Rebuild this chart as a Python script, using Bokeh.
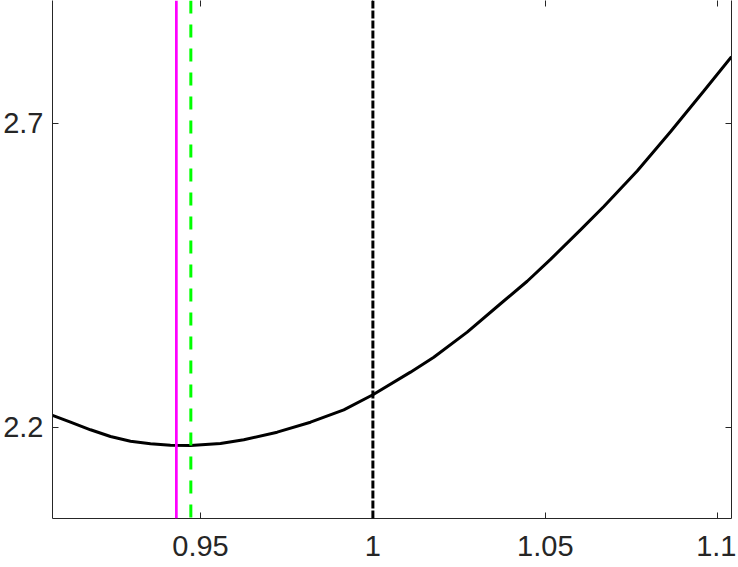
from bokeh.plotting import figure
from bokeh.models import LinearAxis, FixedTicker, Span
from bokeh.embed import file_html
from bokeh.resources import INLINE

# ---- data ----
x_curve = [0.90708, 0.91230, 0.91810, 0.92390, 0.92970, 0.93550, 0.94130, 0.94710,
           0.95580, 0.96256, 0.97224, 0.98190, 0.99156, 1.00000, 1.01090, 1.01766,
           1.02735, 1.03701, 1.04475, 1.05151, 1.06021, 1.06697, 1.07665, 1.08631,
           1.09597, 1.10400]
y_curve = [2.2195, 2.2082, 2.1957, 2.1847, 2.1770, 2.1727, 2.1704, 2.1699,
           2.1732, 2.1793, 2.1918, 2.2082, 2.2286, 2.2533, 2.2905, 2.3151,
           2.3563, 2.4030, 2.4400, 2.4760, 2.5245, 2.5630, 2.6215, 2.6860,
           2.7530, 2.8092]
x_magenta = 0.9430
x_green = 0.9472
x_black = 1.0000

x_ticks = [0.95, 1.0, 1.05, 1.1]
x_tick_labels = ["0.95", "1", "1.05", "1.1"]
y_ticks = [2.2, 2.7]
y_tick_labels = ["2.2", "2.7"]

FONT = "Liberation Sans"
TXT = "#262626"
FS = "29px"

p = figure(frame_width=679, frame_height=518,
           x_range=(0.90708, 1.10400), y_range=(2.0498, 2.9018),
           output_backend="svg", toolbar_location=None,
           min_border_left=52, min_border_right=5, min_border_top=0, min_border_bottom=49,
           x_axis_type=None, y_axis_type=None)
p.outline_line_color = None
p.xgrid.visible = False
p.ygrid.visible = False
p.background_fill_color = "white"
p.border_fill_color = "white"


def style(ax, ticks, labels, show_labels=True, line=True):
    ax.ticker = FixedTicker(ticks=ticks)
    ax.major_label_overrides = dict(zip(ticks, labels))
    ax.minor_tick_line_color = None
    ax.major_tick_in = 6
    ax.major_tick_out = 0
    ax.major_tick_line_color = "#262626"
    ax.major_tick_line_width = 1
    ax.axis_line_color = "#262626" if line else None
    ax.axis_line_width = 1
    ax.major_label_text_font = FONT
    if show_labels:
        ax.major_label_text_color = TXT
        ax.major_label_text_font_size = FS
    else:
        ax.major_label_text_color = None
        ax.major_label_text_alpha = 0
        ax.major_label_text_font_size = "1px"
        ax.major_label_standoff = 0


bottom = LinearAxis()
style(bottom, x_ticks, x_tick_labels)
bottom.major_label_standoff = 17
p.add_layout(bottom, "below")

left = LinearAxis()
style(left, y_ticks, y_tick_labels)
left.major_label_standoff = 9
p.add_layout(left, "left")

right = LinearAxis()
style(right, y_ticks, y_tick_labels, show_labels=False)
p.add_layout(right, "right")

top = LinearAxis()
style(top, x_ticks, x_tick_labels, show_labels=False, line=False)
p.add_layout(top, "above")

p.line(x_curve, y_curve, line_color="black", line_width=3)

p.add_layout(Span(location=x_magenta, dimension="height", line_color="#FF00FF", line_width=2.7))
p.add_layout(Span(location=x_green, dimension="height", line_color="#00FF00", line_width=3,
                  line_dash="13 11"))
p.add_layout(Span(location=x_black, dimension="height", line_color="black", line_width=3,
                  line_dash="8 2"))

open("out.html", "w").write(file_html(p, INLINE))
